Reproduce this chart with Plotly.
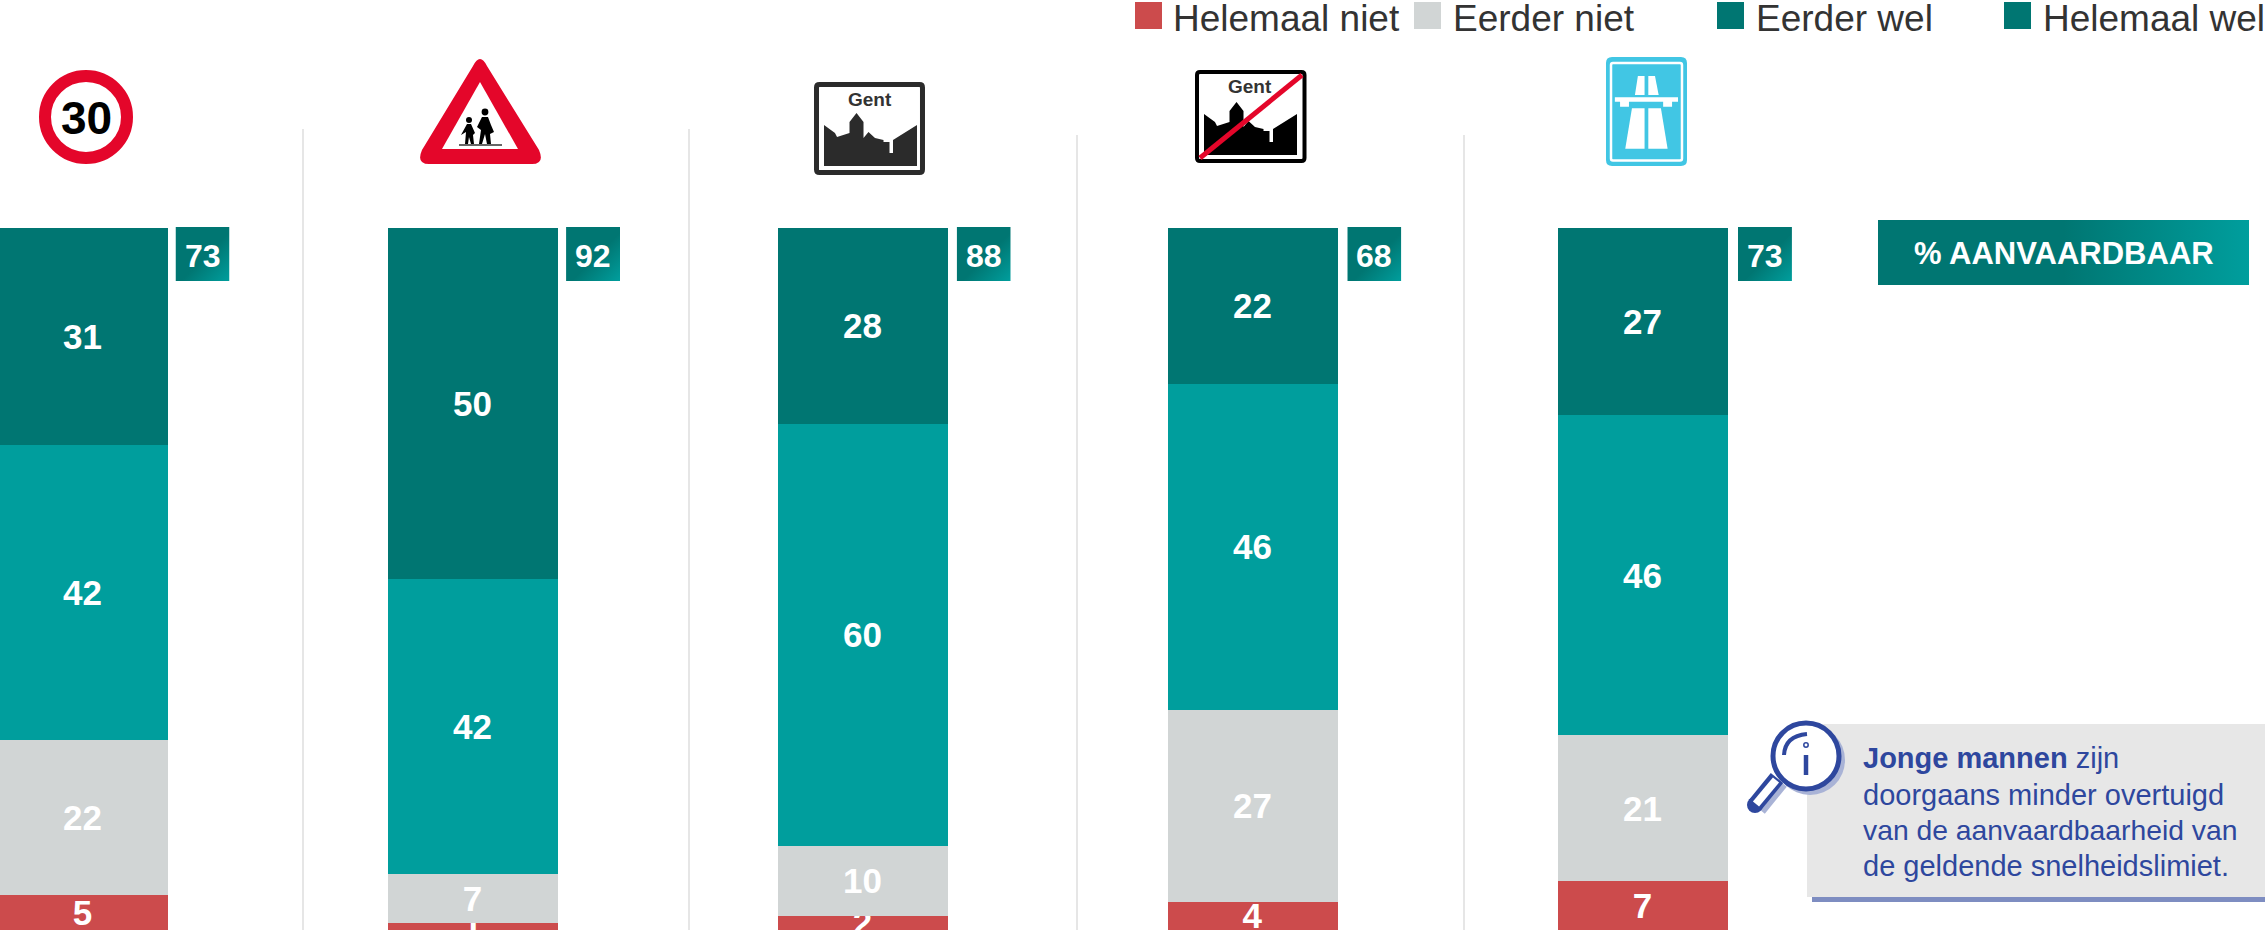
import base64
import plotly.graph_objects as go

W, H = 2265, 933
categories = ["30 km/u", "Schoolomgeving", "Bebouwde kom", "Einde bebouwde kom", "Autosnelweg"]
helemaal_niet = [5, 1, 2, 4, 7]
eerder_niet = [22, 7, 10, 27, 21]
eerder_wel = [42, 42, 60, 46, 46]
helemaal_wel = [31, 50, 28, 22, 27]
aanvaardbaar = [73, 92, 88, 68, 73]
series_names = ["Helemaal niet", "Eerder niet", "Eerder wel", "Helemaal wel"]
series_values = [helemaal_niet, eerder_niet, eerder_wel, helemaal_wel]

RED, GRAY, TEAL, DARK = "#CC4B4C", "#D1D5D5", "#009E9D", "#007672"
BLUE, SIGN_RED = "#2E479E", "#E4062A"
FONT = "Liberation Sans, Arial, sans-serif"

CENTER0, STEP, BARW = 82.5, 390.0, 170.0
BOTTOM, TOP = 930.0, 227.5
UNIT = (BOTTOM - TOP) / 100


def fx(x):
    return x / W


def fy(y):
    return 1 - y / H


def p(x, y):
    return f"{fx(x):.5f},{fy(y):.5f}"


def path(points, close=True):
    s = "M" + " L".join(p(x, y) for x, y in points)
    return s + (" Z" if close else "")


def rrect(x0, y0, x1, y1, r):
    return (f"M{p(x0+r,y0)} L{p(x1-r,y0)} Q{p(x1,y0)} {p(x1,y0+r)} L{p(x1,y1-r)} Q{p(x1,y1)} {p(x1-r,y1)} "
            f"L{p(x0+r,y1)} Q{p(x0,y1)} {p(x0,y1-r)} L{p(x0,y0+r)} Q{p(x0,y0)} {p(x0+r,y0)} Z")


shapes, annotations, images = [], [], []


def add_path(d, fill="rgba(0,0,0,0)", line=None, width=0):
    shapes.append(dict(type="path", xref="paper", yref="paper", path=d, fillcolor=fill,
                       line=dict(color=line or "rgba(0,0,0,0)", width=width), layer="above"))


def add_rect(x0, y0, x1, y1, fill, layer="above"):
    shapes.append(dict(type="rect", xref="paper", yref="paper", x0=fx(x0), x1=fx(x1), y0=fy(y0), y1=fy(y1),
                       fillcolor=fill, line=dict(width=0), layer=layer))


def add_circle(cx, cy, r, fill, line=None, width=0):
    shapes.append(dict(type="circle", xref="paper", yref="paper", x0=fx(cx - r), x1=fx(cx + r),
                       y0=fy(cy + r), y1=fy(cy - r), fillcolor=fill,
                       line=dict(color=line or "rgba(0,0,0,0)", width=width), layer="above"))


def add_line(x0, y0, x1, y1, color, width, layer="above"):
    shapes.append(dict(type="line", xref="paper", yref="paper", x0=fx(x0), x1=fx(x1), y0=fy(y0), y1=fy(y1),
                       line=dict(color=color, width=width), layer=layer))


def add_text(x, y, text, size, color, bold=False, anchor="center", family=FONT):
    if bold:
        text = f"<b>{text}</b>"
    annotations.append(dict(xref="paper", yref="paper", x=fx(x), y=fy(y), text=text, showarrow=False,
                            xanchor=anchor, yanchor="middle", borderpad=0,
                            font=dict(family=family, size=size, color=color)))


def add_gradient(x0, y0, x1, y1, gx1, gy1, start):
    w, h = x1 - x0, y1 - y0
    svg = (f'<svg xmlns="http://www.w3.org/2000/svg" width="{w}" height="{h}" viewBox="0 0 {w} {h}" '
           f'preserveAspectRatio="none"><defs><linearGradient id="g" x1="0" y1="0" x2="{gx1}" y2="{gy1}">'
           f'<stop offset="{start}" stop-color="{DARK}"/><stop offset="1" stop-color="{TEAL}"/>'
           f'</linearGradient></defs><rect width="{w}" height="{h}" fill="url(#g)"/></svg>')
    uri = "data:image/svg+xml;base64," + base64.b64encode(svg.encode()).decode()
    images.append(dict(source=uri, xref="paper", yref="paper", x=fx(x0), y=fy(y0), sizex=w / W, sizey=h / H,
                       xanchor="left", yanchor="top", sizing="stretch", layer="above"))


# dividers
for x, y0 in [(303, 129), (689, 129), (1077, 135), (1464, 135)]:
    add_line(x, y0, x, BOTTOM, "#D9D9D9", 1.3, layer="below")

# badges with the accepted share
for i, v in enumerate(aanvaardbaar):
    x0 = 175.5 + 390.6 * i
    add_gradient(x0, 227, x0 + 54, 281, 1, 1, 0.55)
    add_text(x0 + 27, 256, str(v), 32, "white", bold=True)

# banner
add_gradient(1878, 220, 2249, 285, 1, 0, 0.5)
add_text(2063.5, 254, "% AANVAARDBAAR", 31, "white", bold=True)

# legend
legend_items = [(1135, RED, 1172), (1414, GRAY, 1452), (1717, DARK, 1755), (2004, DARK, 2042)]
for (sx, col, tx), name in zip(legend_items, series_names):
    add_rect(sx, 2, sx + 27, 29, col)
    add_text(tx, 18.5, name, 37, "#333333", anchor="left")

# sign 1: 30 zone
add_circle(86, 117, 41, "white", SIGN_RED, 12)
add_text(86, 118, "30", 46, "black", bold=True)

# sign 2: school zone
add_path(f"M{p(473,66)} Q{p(480,52)} {p(487,66)} L{p(539,150)} Q{p(545,164)} {p(532,164)} "
         f"L{p(429,164)} Q{p(416,164)} {p(422,150)} Z", fill=SIGN_RED)
add_path(path([(480, 82), (518, 149), (442, 149)]), fill="white")
add_circle(485, 112, 3.4, "black")
add_circle(469, 120, 3.0, "black")
add_path(path([(482, 117), (488, 117), (491, 125), (494, 132), (490, 134), (491, 144), (487, 144), (485, 134),
               (482, 144), (479, 144), (481, 130), (477, 127)]), fill="black")
add_path(path([(467, 124), (471, 124), (475, 133), (473, 135), (474, 144), (471, 144), (469, 137), (468, 144),
               (465, 144), (466, 132), (461, 135)]), fill="black")
add_line(459, 145, 502, 145, "#333333", 1.4)


def skyline(dx=0.0, dy=0.0):
    pts = [(824, 125), (835, 133), (837, 137), (849.5, 133), (849.5, 122), (856.5, 113), (863.5, 122), (863.5, 138),
           (868.5, 132), (875, 138), (883.5, 140), (883.5, 142), (889.5, 142), (889.5, 153), (893, 153),
           (893, 140), (917, 125), (917, 166), (824, 166)]
    return path([(x + dx, y + dy) for x, y in pts])


# sign 3: built-up area
add_path(rrect(816.5, 84.5, 922.5, 172.5, 3), fill="white", line="#2B2B2B", width=5)
add_path(skyline(), fill="#2B2B2B")
add_text(870, 99, "Gent", 19, "#333333", bold=True)

# sign 4: end of built-up area
add_path(rrect(1197, 72, 1304.5, 161, 3), fill="white", line="black", width=4)
add_path(skyline(380, -11), fill="black")
add_line(1200, 158, 1302, 75, SIGN_RED, 5)
add_text(1250, 87, "Gent", 19, "#333333", bold=True)

# sign 5: motorway
add_path(rrect(1606, 57, 1687, 166, 6), fill="#41C6E4")
add_path(rrect(1611, 63, 1682, 160.5, 2), fill="#41C6E4", line="white", width=2.5)


def z2(pts):
    return [(1100 + x / 1.346, y / 3) for x, y in pts]


for road in [[(720, 285), (724, 228), (733, 228), (733, 285)], [(738, 228), (747, 228), (752, 285), (738, 285)],
             [(707, 446), (716, 325), (733, 325), (733, 446)], [(738, 325), (755, 325), (764, 446), (738, 446)],
             [(693, 292), (778, 292), (778, 305), (770, 305), (770, 320), (758, 320), (758, 305), (712, 305),
              (712, 320), (700, 320), (700, 305), (693, 305)]]:
    add_path(path(z2(road)), fill="white")

# callout
add_rect(1807, 724, W, 897, "#E7E7E7")
add_rect(1812, 897, W, 902, "#7E8DC1")
callout_lines = ["<b>Jonge mannen</b> zijn", "doorgaans minder overtuigd", "van de aanvaardbaarheid van",
                 "de geldende snelheidslimiet."]
for ln, y, sz in zip(callout_lines, [758, 795, 830, 866], [29, 29, 28.3, 29]):
    add_text(1862, y, ln, sz, BLUE, anchor="left")

# magnifier
SHADOW = "#A9B3D6"
add_line(1781, 782, 1759, 809, SHADOW, 15)
add_circle(1810, 760, 35, SHADOW)
add_line(1777, 778, 1755, 805, BLUE, 16)
add_circle(1755, 805, 8, BLUE)
add_line(1776, 780, 1756, 804, "white", 8)
add_circle(1806, 756, 33, "white", BLUE, 5)
add_path(f"M{p(1784,755)} Q{p(1785,736)} {p(1807,734)}", line=BLUE, width=4)
add_circle(1806, 745, 2.2, "white", BLUE, 1.5)
add_line(1806, 755, 1806, 775, BLUE, 4.5)

colors = [RED, GRAY, TEAL, DARK]
fig = go.Figure()
for name, vals, col in zip(series_names, series_values, colors):
    fig.add_trace(go.Bar(x=categories, y=vals, name=name, marker=dict(color=col, line=dict(width=0)),
                         text=[str(v) for v in vals], textposition="inside", insidetextanchor="middle",
                         textangle=0, constraintext="none", cliponaxis=False,
                         insidetextfont=dict(family=FONT, size=35, color="white", weight="bold"),
                         hoverinfo="x+y+name"))

fig.update_layout(
    width=W, height=H, autosize=False, margin=dict(l=0, r=0, t=0, b=0),
    paper_bgcolor="white", plot_bgcolor="white", showlegend=False,
    barmode="stack", barnorm="percent", bargap=1 - BARW / STEP,
    xaxis=dict(type="category", categoryorder="array", categoryarray=categories,
               range=[-CENTER0 / STEP, (W - CENTER0) / STEP], showticklabels=False, showgrid=False,
               zeroline=False, showline=False, ticks=""),
    yaxis=dict(range=[-(H - BOTTOM) / UNIT, BOTTOM / UNIT], showticklabels=False, showgrid=False,
               zeroline=False, showline=False, ticks=""),
    shapes=shapes, annotations=annotations, images=images,
)
fig.write_html("out.html", config=dict(displayModeBar=False),
               post_script="document.body.style.margin='0';document.documentElement.style.overflow='hidden';")
